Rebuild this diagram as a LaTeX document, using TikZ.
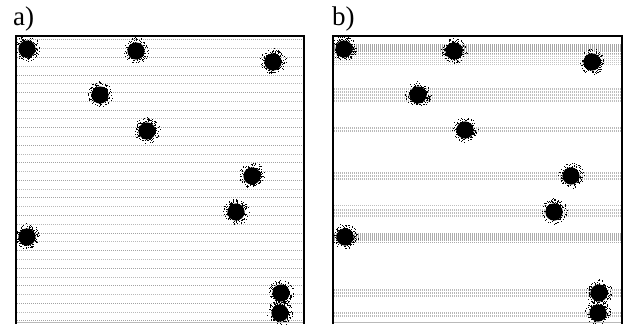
\documentclass[tikz,border=0pt]{standalone}
\usepackage{fontspec}
\setmainfont{Liberation Serif}
\newcommand\myblob[2]{%
  \fill[black] (#1,#2) circle (8.6pt);
  \foreach \k in {1,...,160}{%
    \pgfmathsetmacro\ra{rnd*360}%
    \pgfmathsetmacro\rr{7+(rnd^1.6)*6}%
    \fill[black] (#1,#2) ++(\ra:\rr pt) rectangle ++(0.9pt,0.9pt);
  }}
\begin{document}
\begin{tikzpicture}[x=1pt,y=-1pt,
  frame/.style={line width=1.4pt,black},
  fbottom/.style={line width=1pt,gray!55},
  lbl/.style={font=\fontsize{27}{30}\selectfont,anchor=base west,inner sep=0pt}]
\useasboundingbox (0,0) rectangle (623,324);
\pgfmathsetseed{4711}
% labels
\node[lbl] (la) at (13,25.5) {a)};
\node[lbl] (lb) at (332,25.5) {b)};
% panel a: evenly spaced lines
\foreach \i in {0,...,32}{%
  \pgfmathsetmacro\yy{39.8+\i*8.78}%
  \pgfmathsetmacro\cc{mod(\i,2)==0 ? 72 : 55}%
  \draw[gray!\cc,line width=0.7pt,dash pattern=on 1.3pt off 0.7pt] (17,\yy) -- (303,\yy);
}
% panel b: bands of dense lines
\foreach \ya/\yb/\st/\c in {44/53/1.1/70, 54.5/65/2/45, 88/102/1.5/50, 127/132/1.5/55, 172/180/1.5/55, 209/217/1.5/50, 233/242/1.1/65, 289/297/1.5/55, 312/317/1.5/55}{%
  \pgfmathsetmacro\yn{\ya+\st}%
  \foreach \y in {\ya,\yn,...,\yb}{%
    \draw[gray!\c,line width=0.5pt,dash pattern=on 1pt off 1pt] (334,\y) -- (621,\y);
  }
}
\draw[gray!50,line width=0.5pt,dash pattern=on 1pt off 1pt] (334,205.5) -- (621,205.5);
% blobs a
\foreach \bx/\by in {27/49,136/51,273/62,100/95,147/131,252/176,236/212,27/237,281/293,280/313}{\myblob{\bx}{\by}}
% blobs b
\foreach \bx/\by in {344/49,454/51,592/62,418/95,465/130,571/176,554/212,345/237,599/293,598/313}{\myblob{\bx}{\by}}
% frames
\draw[fbottom] (16,322) -- (304,322);
\draw[frame] (16,324) -- (16,36) -- (304,36) -- (304,324);
\draw[fbottom] (333,322) -- (622,322);
\draw[frame] (333,324) -- (333,36) -- (622,36) -- (622,324);
\end{tikzpicture}
\end{document}
